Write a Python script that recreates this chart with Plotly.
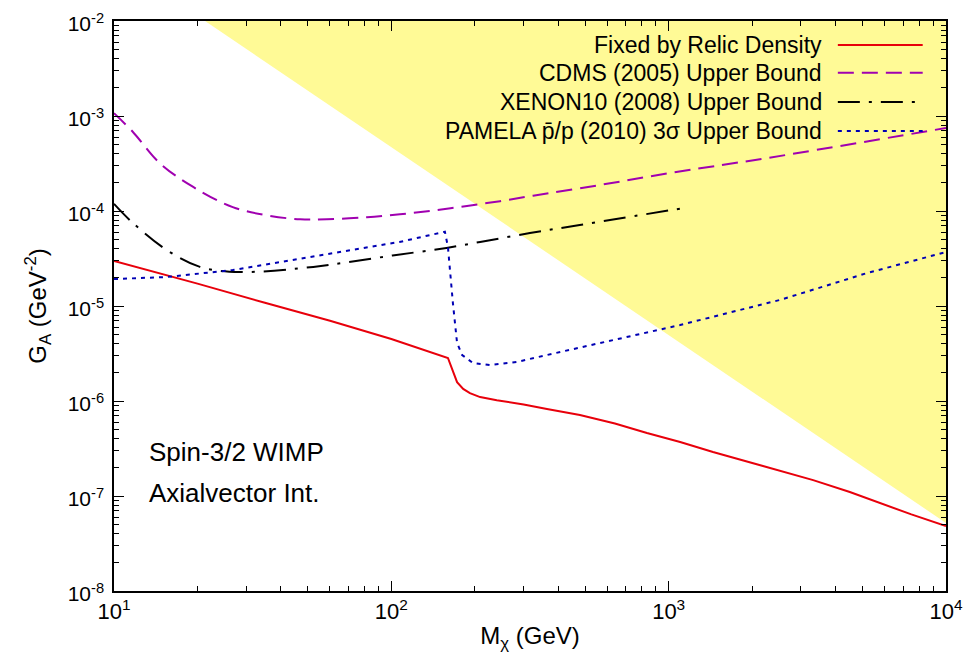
import plotly.graph_objects as go

# ---------------- data ----------------
mass_relic = [10, 20, 35, 60.1, 100, 160, 172.6, 181.6, 192, 209, 240, 300, 364, 478.6, 640, 835, 1100,
              1445, 2188, 3319, 4500, 5781, 7500, 10000]
g_relic = [2.98e-5, 1.72e-5, 1.08e-5, 7.0e-6, 4.5e-6, 2.84e-6, 1.58e-6, 1.34e-6, 1.21e-6, 1.10e-6,
           1.02e-6, 9.2e-7, 8.24e-7, 7.13e-7, 5.8e-7, 4.6e-7, 3.7e-7, 2.9e-7, 2.07e-7, 1.47e-7,
           1.1e-7, 8.43e-8, 6.4e-8, 4.83e-8]

mass_cdms = [10, 11.7, 14.6, 19.3, 26.8, 35.6, 46.9, 58.6, 81.7, 107.4, 141.3, 187.4, 246.6, 324.5,
             566, 1000, 2265, 10000]
g_cdms = [1.07e-3, 6.79e-4, 3.2e-4, 1.79e-4, 1.10e-4, 9.0e-5, 8.18e-5, 8.2e-5, 8.59e-5, 9.23e-5,
          1.01e-4, 1.13e-4, 1.27e-4, 1.45e-4, 1.88e-4, 2.5e-4, 3.61e-4, 7.48e-4]

mass_xenon = [10, 11.7, 15.5, 20.4, 28.5, 52.3, 67, 101, 158, 209, 316, 478, 1146]
g_xenon = [1.19e-4, 7.48e-5, 3.88e-5, 2.58e-5, 2.28e-5, 2.58e-5, 2.84e-5, 3.4e-5, 4.08e-5, 4.72e-5,
           5.86e-5, 7.13e-5, 1.08e-4]

mass_pamela = [10, 15.5, 26.8, 61.7, 107, 156, 160, 166.7, 172.6, 180, 197, 227, 284, 364, 631, 1100,
               2523, 5188, 10000]
g_pamela = [1.92e-5, 2.02e-5, 2.39e-5, 3.61e-5, 4.72e-5, 6.05e-5, 4.18e-5, 1.08e-5, 4.08e-6, 3.05e-6,
            2.51e-6, 2.39e-6, 2.58e-6, 3.05e-6, 4.39e-6, 6.31e-6, 1.16e-5, 2.22e-5, 3.7e-5]

# excluded (yellow) region boundary
mass_excl = [21.3, 10000, 10000]
g_excl = [1e-2, 5.2e-8, 1e-2]

x_tickvals = [10, 100, 1000, 10000]
x_ticktext = ["10<sup>1</sup>", "10<sup>2</sup>", "10<sup>3</sup>", "10<sup>4</sup>"]
y_tickvals = [1e-8, 1e-7, 1e-6, 1e-5, 1e-4, 1e-3, 1e-2]
y_ticktext = ["10<sup>-8</sup>", "10<sup>-7</sup>", "10<sup>-6</sup>", "10<sup>-5</sup>",
              "10<sup>-4</sup>", "10<sup>-3</sup>", "10<sup>-2</sup>"]

series_names = ["Fixed by Relic Density", "CDMS (2005) Upper Bound", "XENON10 (2008) Upper Bound",
                "PAMELA p\u0304/p (2010) 3\u03c3 Upper Bound"]
series_colors = ["#e8000b", "#a000b0", "#000000", "#0000b4"]
series_dash = ["solid", "16px,8px", "22px,9px,3px,9px", "4px,5px"]

FONT = "Liberation Sans, Arial, Helvetica, sans-serif"

fig = go.Figure()

fig.add_trace(go.Scatter(x=mass_excl, y=g_excl, mode="lines", fill="toself",
                         fillcolor="#fffa96", line=dict(width=0), hoverinfo="skip",
                         showlegend=False))

data = [(mass_relic, g_relic), (mass_cdms, g_cdms), (mass_xenon, g_xenon), (mass_pamela, g_pamela)]
shapes_line = ["linear", "spline", "spline", "linear"]
for (mx, gy), name, col, dash, sh in zip(data, series_names, series_colors, series_dash, shapes_line):
    fig.add_trace(go.Scatter(x=mx, y=gy, mode="lines", name=name,
                             line=dict(color=col, width=2, dash=dash, shape=sh),
                             showlegend=False))

# custom legend (text right, sample line to the right)
leg_y = [0.958, 0.909, 0.858, 0.807]
annotations = []
shapes = []
for yy, name, col, dash in zip(leg_y, series_names, series_colors, series_dash):
    annotations.append(dict(x=0.853, y=yy, xref="paper", yref="paper", text=name,
                            showarrow=False, xanchor="right", yanchor="middle",
                            font=dict(family=FONT, size=23, color="black")))
    shapes.append(dict(type="line", xref="paper", yref="paper", x0=0.870, x1=0.972, y0=yy, y1=yy,
                       line=dict(color=col, width=2, dash=dash)))

annotations.append(dict(x=0.040, y=0.244, xref="paper", yref="paper", text="Spin-3/2 WIMP",
                        showarrow=False, xanchor="left", yanchor="middle",
                        font=dict(family=FONT, size=26, color="black")))
annotations.append(dict(x=0.040, y=0.172, xref="paper", yref="paper", text="Axialvector Int.",
                        showarrow=False, xanchor="left", yanchor="middle",
                        font=dict(family=FONT, size=26, color="black")))

x_minor = [m * 10 ** e for e in range(1, 4) for m in range(2, 10)]
y_minor = [m * 10.0 ** e for e in range(-8, -2) for m in range(2, 10)]

# the page body adds an 8px offset, so the figure is sized to fit the window exactly
fig.update_layout(
    width=966, height=659,
    margin=dict(l=106, r=28, t=13, b=76),
    paper_bgcolor="white", plot_bgcolor="white",
    font=dict(family=FONT, size=22, color="black"),
    annotations=annotations, shapes=shapes,
    xaxis=dict(type="log", range=[1, 4], tickmode="array", tickvals=x_tickvals, ticktext=x_ticktext,
               ticks="inside", ticklen=10, tickwidth=1, tickcolor="black", automargin=False,
               ticklabeloverflow="allow",
               showline=True, linecolor="black", linewidth=1.5, mirror="allticks",
               showgrid=False, zeroline=False,
               minor=dict(tickmode="array", tickvals=x_minor, ticks="inside", ticklen=5,
                          tickcolor="black", showgrid=False),
               tickfont=dict(size=22),
               title=dict(text="M<sub>\u03c7</sub> (GeV)", font=dict(size=24), standoff=4)),
    yaxis=dict(type="log", range=[-8, -2], tickmode="array", tickvals=y_tickvals, ticktext=y_ticktext,
               ticks="inside", ticklen=10, tickwidth=1, tickcolor="black", automargin=False,
               ticklabeloverflow="allow", ticklabelshift=3,
               showline=True, linecolor="black", linewidth=1.5, mirror="allticks",
               showgrid=False, zeroline=False,
               minor=dict(tickmode="array", tickvals=y_minor, ticks="inside", ticklen=5,
                          tickcolor="black", showgrid=False),
               tickfont=dict(size=21), ticklabelstandoff=4,
               title=dict(text="G<sub>A</sub> (GeV<sup>-2</sup>)", font=dict(size=24), standoff=14)),
)

fig.write_html("out.html")
